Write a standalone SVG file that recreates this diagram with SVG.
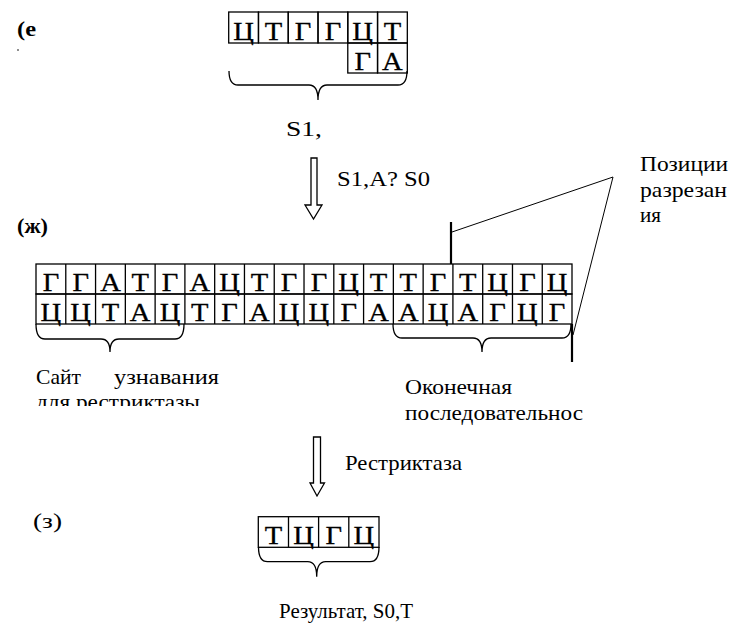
<svg xmlns="http://www.w3.org/2000/svg" width="738" height="631" viewBox="0 0 738 631">
<style>
.c{fill:none;stroke:#000;stroke-width:1.3}
.l{font-family:"Liberation Serif","DejaVu Serif","Times New Roman",serif;font-size:26px;fill:#000;stroke:#000;stroke-width:0.3;text-anchor:middle}
.t{font-family:"Liberation Serif","DejaVu Serif","Times New Roman",serif;font-size:21px;fill:#000}
.b{font-weight:bold}
.br{fill:none;stroke:#000;stroke-width:1.3}
.ln{fill:none;stroke:#000;stroke-width:1}
.thick{fill:none;stroke:#000;stroke-width:2.2}
.arr{fill:#fff;stroke:#000;stroke-width:1.3}
</style>
<defs>
<clipPath id="cut"><rect x="0" y="385" width="738" height="21"/></clipPath>
</defs>
<rect width="738" height="631" fill="#fff"/>

<g id="label-e">
<text class="t b" x="17" y="36" textLength="19" lengthAdjust="spacingAndGlyphs">(е</text>
<circle cx="18" cy="50" r="0.8" fill="#000"/>
</g>

<g id="strand-top">
<rect class="c" x="228.7" y="12" width="29.77" height="31"/>
<rect class="c" x="258.47" y="12" width="29.77" height="31"/>
<rect class="c" x="288.24" y="12" width="29.77" height="31"/>
<rect class="c" x="318.01" y="12" width="29.77" height="31"/>
<rect class="c" x="347.78" y="12" width="29.77" height="31"/>
<rect class="c" x="377.55" y="12" width="29.77" height="31"/>
<rect class="c" x="347.78" y="43" width="29.77" height="30"/>
<rect class="c" x="377.55" y="43" width="29.77" height="30"/>
<text class="l" transform="translate(243.6,39.5) scale(1.1,1)">Ц</text>
<text class="l" transform="translate(273.4,39.5) scale(1.1,1)">Т</text>
<text class="l" transform="translate(303.1,39.5) scale(1.1,1)">Г</text>
<text class="l" transform="translate(332.9,39.5) scale(1.1,1)">Г</text>
<text class="l" transform="translate(362.7,39.5) scale(1.1,1)">Ц</text>
<text class="l" transform="translate(392.4,39.5) scale(1.1,1)">Т</text>
<text class="l" transform="translate(362.7,69.5) scale(1.1,1)">Г</text>
<text class="l" transform="translate(392.4,69.5) scale(1.1,1)">А</text>
<path class="br" d="M229 71 Q229 85 238 85 L309 85 Q318 85 318 100 Q318 85 327 85 L398 85 Q407 85 407 71"/>
<text class="t" x="286" y="136" textLength="36" lengthAdjust="spacingAndGlyphs">S1,</text>
</g>

<g id="step1">
<path class="arr" d="M311 158 L317 158 L317 205 L322 205 L313.5 219 L305 205 L311 205 Z"/>
<text class="t" x="337" y="186" textLength="93" lengthAdjust="spacingAndGlyphs">S1,A?  S0</text>
</g>

<g id="label-cut">
<text class="t" x="640" y="171" textLength="88" lengthAdjust="spacingAndGlyphs">Позиции</text>
<text class="t" x="640" y="197" textLength="87" lengthAdjust="spacingAndGlyphs">разрезан</text>
<text class="t" x="640" y="222" textLength="21" lengthAdjust="spacingAndGlyphs">ия</text>
</g>

<g id="label-zh">
<text class="t b" x="17" y="233" textLength="31" lengthAdjust="spacingAndGlyphs">(ж)</text>
</g>

<g id="strand-middle">
<g id="cells">
<rect class="c" x="36" y="264" width="536" height="30"/>
<path class="c" d="M65.78 264V294M95.56 264V294M125.34 264V294M155.12 264V294M184.9 264V294M214.68 264V294M244.46 264V294M274.24 264V294M304.02 264V294M333.8 264V294M363.58 264V294M393.36 264V294M423.14 264V294M452.92 264V294M482.7 264V294M512.48 264V294M542.26 264V294"/>
<rect class="c" x="36" y="294" width="536" height="30"/>
<path class="c" d="M65.78 294V324M95.56 294V324M125.34 294V324M155.12 294V324M184.9 294V324M214.68 294V324M244.46 294V324M274.24 294V324M304.02 294V324M333.8 294V324M363.58 294V324M393.36 294V324M423.14 294V324M452.92 294V324M482.7 294V324M512.48 294V324M542.26 294V324"/>
</g>
<g id="row1-letters">
<text class="l" transform="translate(50.9,290.5) scale(1.1,1)">Г</text>
<text class="l" transform="translate(80.7,290.5) scale(1.1,1)">Г</text>
<text class="l" transform="translate(110.5,290.5) scale(1.1,1)">А</text>
<text class="l" transform="translate(140.2,290.5) scale(1.1,1)">Т</text>
<text class="l" transform="translate(170,290.5) scale(1.1,1)">Г</text>
<text class="l" transform="translate(199.8,290.5) scale(1.1,1)">А</text>
<text class="l" transform="translate(229.6,290.5) scale(1.1,1)">Ц</text>
<text class="l" transform="translate(259.4,290.5) scale(1.1,1)">Т</text>
<text class="l" transform="translate(289.1,290.5) scale(1.1,1)">Г</text>
<text class="l" transform="translate(318.9,290.5) scale(1.1,1)">Г</text>
<text class="l" transform="translate(348.7,290.5) scale(1.1,1)">Ц</text>
<text class="l" transform="translate(378.5,290.5) scale(1.1,1)">Т</text>
<text class="l" transform="translate(408.3,290.5) scale(1.1,1)">Т</text>
<text class="l" transform="translate(438,290.5) scale(1.1,1)">Г</text>
<text class="l" transform="translate(467.8,290.5) scale(1.1,1)">Т</text>
<text class="l" transform="translate(497.6,290.5) scale(1.1,1)">Ц</text>
<text class="l" transform="translate(527.4,290.5) scale(1.1,1)">Г</text>
<text class="l" transform="translate(557.1,290.5) scale(1.1,1)">Ц</text>
</g>
<g id="row2-letters">
<text class="l" transform="translate(50.9,320.5) scale(1.1,1)">Ц</text>
<text class="l" transform="translate(80.7,320.5) scale(1.1,1)">Ц</text>
<text class="l" transform="translate(110.5,320.5) scale(1.1,1)">Т</text>
<text class="l" transform="translate(140.2,320.5) scale(1.1,1)">А</text>
<text class="l" transform="translate(170,320.5) scale(1.1,1)">Ц</text>
<text class="l" transform="translate(199.8,320.5) scale(1.1,1)">Т</text>
<text class="l" transform="translate(229.6,320.5) scale(1.1,1)">Г</text>
<text class="l" transform="translate(259.4,320.5) scale(1.1,1)">А</text>
<text class="l" transform="translate(289.1,320.5) scale(1.1,1)">Ц</text>
<text class="l" transform="translate(318.9,320.5) scale(1.1,1)">Ц</text>
<text class="l" transform="translate(348.7,320.5) scale(1.1,1)">Г</text>
<text class="l" transform="translate(378.5,320.5) scale(1.1,1)">А</text>
<text class="l" transform="translate(408.3,320.5) scale(1.1,1)">А</text>
<text class="l" transform="translate(438,320.5) scale(1.1,1)">Ц</text>
<text class="l" transform="translate(467.8,320.5) scale(1.1,1)">А</text>
<text class="l" transform="translate(497.6,320.5) scale(1.1,1)">Г</text>
<text class="l" transform="translate(527.4,320.5) scale(1.1,1)">Ц</text>
<text class="l" transform="translate(557.1,320.5) scale(1.1,1)">Г</text>
</g>
</g>

<g id="connectors">
<path class="thick" d="M451 222 V264"/>
<path class="thick" d="M572 324 V362"/>
<path class="ln" d="M452 232 L613 177 L573 335"/>
</g>

<g id="brace-site">
<path class="br" d="M36 324 Q36 339 45 339 L101 339 Q110 339 110 352 Q110 339 119 339 L175 339 Q184 339 184 324"/>
<text class="t" x="36" y="384" textLength="45" lengthAdjust="spacingAndGlyphs">Сайт</text>
<text class="t" x="114" y="384" textLength="105" lengthAdjust="spacingAndGlyphs">узнавания</text>
<text class="t" x="36" y="409" textLength="164" lengthAdjust="spacingAndGlyphs" clip-path="url(#cut)">для рестриктазы</text>
</g>

<g id="brace-end">
<path class="br" d="M393 324 Q393 338 402 338 L473 338 Q482 338 482 352 Q482 338 491 338 L562 338 Q571 338 571 324"/>
<text class="t" x="405" y="394" textLength="107" lengthAdjust="spacingAndGlyphs">Оконечная</text>
<text class="t" x="405" y="420" textLength="178" lengthAdjust="spacingAndGlyphs">последовательнос</text>
</g>

<g id="step2">
<path class="arr" d="M313.5 437 L320.5 437 L320.5 483 L324.5 483 L317 496 L310 483 L313.5 483 Z"/>
<text class="t" x="345" y="470" textLength="117" lengthAdjust="spacingAndGlyphs">Рестриктаза</text>
</g>

<g id="label-z">
<text class="t" x="33" y="528" textLength="29" lengthAdjust="spacingAndGlyphs">(з)</text>
</g>

<g id="strand-result">
<rect class="c" x="258.3" y="516.7" width="120.7" height="30.6"/>
<path class="c" d="M288.5 516.7V547.3M318.6 516.7V547.3M348.8 516.7V547.3"/>
<text class="l" transform="translate(273.4,543.5) scale(1.1,1)">Т</text>
<text class="l" transform="translate(303.5,543.5) scale(1.1,1)">Ц</text>
<text class="l" transform="translate(333.7,543.5) scale(1.1,1)">Г</text>
<text class="l" transform="translate(363.9,543.5) scale(1.1,1)">Ц</text>
<path class="br" d="M258.5 547 Q258.5 561.7 267.5 561.7 L307.7 561.7 Q316.7 561.7 316.7 576.7 Q316.7 561.7 325.7 561.7 L370 561.7 Q379 561.7 379 547"/>
<text class="t" x="279" y="618" textLength="134" lengthAdjust="spacingAndGlyphs">Результат, S0,Т</text>
</g>
</svg>
